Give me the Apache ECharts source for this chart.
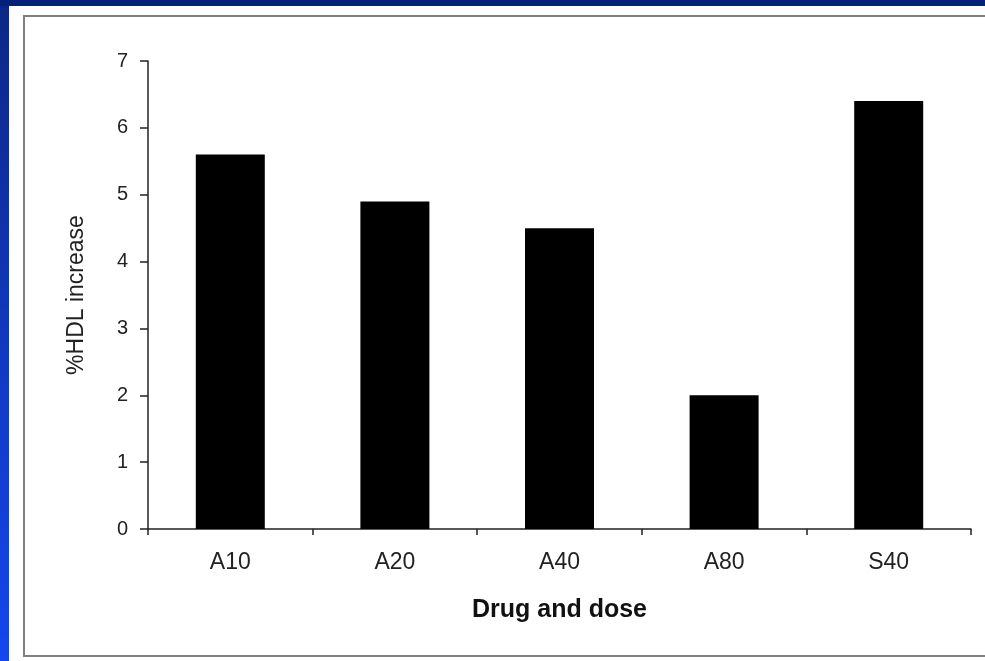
<!DOCTYPE html>
<html>
<head>
<meta charset="utf-8">
<script src="https://cdn.jsdelivr.net/npm/echarts@6/dist/echarts.min.js"></script>
<style>
  html, body { margin: 0; padding: 0; width: 985px; height: 661px; overflow: hidden; }
  body {
    background: linear-gradient(to bottom, #0c2785 0%, #123bc8 60%, #1546ee 100%);
  }
  #topbar { position: absolute; left: 0; top: 0; width: 985px; height: 6px; background: #02217a; }
  #panel { position: absolute; left: 9px; top: 6px; width: 976px; height: 655px; background: #fff; }
  #frame {
    position: absolute; left: 23px; top: 15px; width: 980px; height: 642px;
    border: 2px solid #808080; box-sizing: border-box;
  }
  #chart { position: absolute; left: 0; top: 0; width: 985px; height: 661px; }
</style>
</head>
<body>
<div id="topbar"></div>
<div id="panel"></div>
<div id="frame"></div>
<div id="chart"></div>
<script>
// 药物及剂量
var categories = ['A10', 'A20', 'A40', 'A80', 'S40']
// HDL 升高百分比
var hdlIncrease = [5.6, 4.9, 4.5, 2.0, 6.4]

var myChart = echarts.init(document.getElementById('chart'))

var option = {
  animation: false,
  textStyle: { fontFamily: 'Liberation Sans, Arial, sans-serif' },
  grid: {
    left: 148,
    right: 14,
    top: 61,
    bottom: 132,
  },
  xAxis: {
    type: 'category',
    data: categories,
    name: 'Drug and dose',
    nameLocation: 'middle',
    nameGap: 69,
    nameTextStyle: {
      color: '#111',
      fontSize: 25,
      fontWeight: 'bold',
    },
    axisLine: {
      lineStyle: { color: '#222', width: 1.5 },
    },
    axisTick: {
      show: true,
      length: 6,
      lineStyle: { color: '#222', width: 1.5 },
    },
    axisLabel: {
      color: '#222',
      fontSize: 23,
      margin: 22,
    },
  },
  yAxis: {
    type: 'value',
    min: 0,
    max: 7,
    interval: 1,
    name: '%HDL increase',
    nameLocation: 'middle',
    nameGap: 60,
    nameTextStyle: {
      color: '#222',
      fontSize: 23,
    },
    axisLine: {
      show: true,
      lineStyle: { color: '#222', width: 1.5 },
    },
    axisTick: {
      show: true,
      length: 8,
      lineStyle: { color: '#222', width: 1.5 },
    },
    splitLine: { show: false },
    axisLabel: {
      color: '#222',
      fontSize: 20,
      margin: 20,
    },
  },
  series: [
    {
      type: 'bar',
      data: hdlIncrease,
      barWidth: 69,
      itemStyle: { color: '#000' },
    },
  ],
}

myChart.setOption(option)
</script>
</body>
</html>
